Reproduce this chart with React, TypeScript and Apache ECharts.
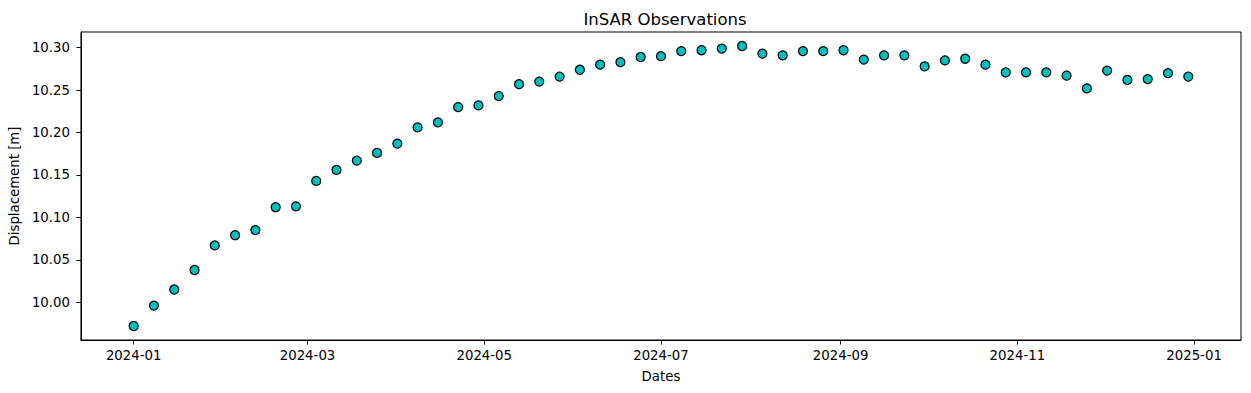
import React, { useEffect, useRef } from "react";
import * as echarts from "echarts";

const DATES = [
  "2024-01-01", "2024-01-08", "2024-01-15", "2024-01-22", "2024-01-29",
  "2024-02-05", "2024-02-12", "2024-02-19", "2024-02-26",
  "2024-03-04", "2024-03-11", "2024-03-18", "2024-03-25",
  "2024-04-01", "2024-04-08", "2024-04-15", "2024-04-22", "2024-04-29",
  "2024-05-06", "2024-05-13", "2024-05-20", "2024-05-27",
  "2024-06-03", "2024-06-10", "2024-06-17", "2024-06-24",
  "2024-07-01", "2024-07-08", "2024-07-15", "2024-07-22", "2024-07-29",
  "2024-08-05", "2024-08-12", "2024-08-19", "2024-08-26",
  "2024-09-02", "2024-09-09", "2024-09-16", "2024-09-23", "2024-09-30",
  "2024-10-07", "2024-10-14", "2024-10-21", "2024-10-28",
  "2024-11-04", "2024-11-11", "2024-11-18", "2024-11-25",
  "2024-12-02", "2024-12-09", "2024-12-16", "2024-12-23", "2024-12-30",
];

const DISPLACEMENT = [
  9.972, 9.996, 10.015, 10.038, 10.067, 10.079, 10.085, 10.112, 10.113, 10.143,
  10.156, 10.167, 10.176, 10.187, 10.206, 10.212, 10.230, 10.232, 10.243, 10.257,
  10.260, 10.266, 10.274, 10.280, 10.283, 10.289, 10.290, 10.296, 10.297, 10.299,
  10.302, 10.293, 10.291, 10.296, 10.296, 10.297, 10.286, 10.291, 10.291, 10.278,
  10.285, 10.287, 10.280, 10.271, 10.271, 10.271, 10.267, 10.252, 10.273, 10.262,
  10.263, 10.270, 10.266,
];

const X_TICKS = [
  "2024-01-01", "2024-03-01", "2024-05-01", "2024-07-01",
  "2024-09-01", "2024-11-01", "2025-01-01",
];

const Y_TICKS = [10.0, 10.05, 10.1, 10.15, 10.2, 10.25, 10.3];

const TITLE = "InSAR Observations";
const X_NAME = "Dates";
const Y_NAME = "Displacement [m]";

const toTs = (s: string) => {
  const [y, m, d] = s.split("-").map(Number);
  return Date.UTC(y, m - 1, d);
};

const FONT = "DejaVu Sans";
const FS = 13.3;

export default function App() {
  const ref = useRef<HTMLDivElement>(null);

  useEffect(() => {
    if (!ref.current) return;
    const chart = echarts.init(ref.current, null, { renderer: "svg" });
    const pad = (v: { min: number; max: number }, sign: number) =>
      sign < 0 ? v.min - 0.05 * (v.max - v.min) : v.max + 0.05 * (v.max - v.min);

    chart.setOption({
      animation: false,
      backgroundColor: "#ffffff",
      textStyle: { fontFamily: FONT },
      title: {
        text: TITLE,
        left: 660,
        top: 6,
        textAlign: "center",
        textStyle: { fontFamily: FONT, fontSize: 16.5, fontWeight: "normal", color: "#000" },
      },
      grid: {
        left: 79,
        right: 10,
        top: 32,
        bottom: 53,
        show: true,
        borderColor: "#000",
        borderWidth: 1,
        backgroundColor: "transparent",
      },
      xAxis: {
        type: "value",
        scale: true,
        min: (v: any) => pad(v, -1),
        max: (v: any) => pad(v, 1),
        name: X_NAME,
        nameLocation: "middle",
        nameGap: 30,
        nameTextStyle: { fontFamily: FONT, fontSize: FS, color: "#000" },
        axisLine: { show: true, onZero: false, lineStyle: { color: "#000", width: 1 } },
        axisTick: {
          show: true,
          length: 4.5,
          inside: false,
          customValues: X_TICKS.map(toTs),
          lineStyle: { color: "#000", width: 1 },
        },
        axisLabel: {
          customValues: X_TICKS.map(toTs),
          margin: 9,
          fontFamily: FONT,
          fontSize: FS,
          color: "#000",
          hideOverlap: false,
          showMinLabel: true,
          showMaxLabel: true,
          formatter: (val: number) => {
            const d = new Date(val);
            const mm = String(d.getUTCMonth() + 1).padStart(2, "0");
            return `${d.getUTCFullYear()}-${mm}`;
          },
        },
        splitLine: { show: false },
      },
      yAxis: {
        type: "value",
        scale: true,
        min: (v: any) => pad(v, -1),
        max: (v: any) => pad(v, 1),
        name: Y_NAME,
        nameLocation: "middle",
        nameGap: 58,
        nameTextStyle: { fontFamily: FONT, fontSize: FS, color: "#000" },
        axisLine: { show: true, onZero: false, lineStyle: { color: "#000", width: 1 } },
        axisTick: {
          show: true,
          length: 4.5,
          inside: false,
          customValues: Y_TICKS,
          lineStyle: { color: "#000", width: 1 },
        },
        axisLabel: {
          customValues: Y_TICKS,
          margin: 11,
          fontFamily: FONT,
          fontSize: FS,
          color: "#000",
          formatter: (val: number) => val.toFixed(2),
        },
        splitLine: { show: false },
      },
      series: [
        {
          type: "scatter",
          data: DATES.map((d, i) => [toTs(d), DISPLACEMENT[i]]),
          symbol: "circle",
          symbolSize: 9,
          itemStyle: { color: "#00bfbf", borderColor: "#000", borderWidth: 1.2, opacity: 1 },
          emphasis: { disabled: true },
        },
      ],
    });
    return () => chart.dispose();
  }, []);

  return (
    <div
      ref={ref}
      style={{ position: "fixed", left: 0, top: 0, width: 1251, height: 393, background: "#fff" }}
    />
  );
}
